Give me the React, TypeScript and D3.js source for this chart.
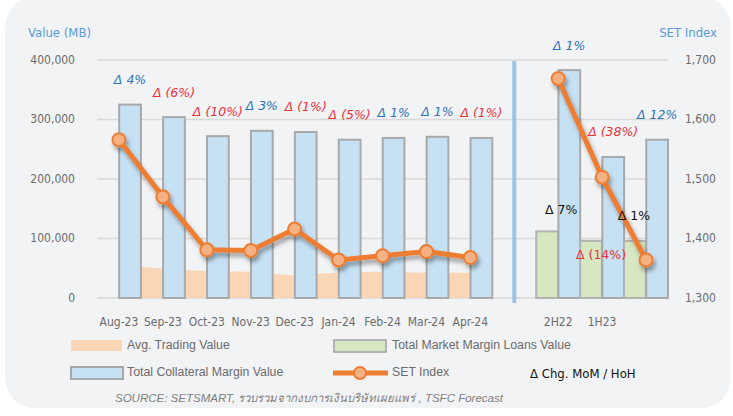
import React from 'react';
import * as d3 from 'd3';

// categories (the blank slot between the two groups holds the separator)
const categories = ['Aug-23', 'Sep-23', 'Oct-23', 'Nov-23', 'Dec-23', 'Jan-24', 'Feb-24', 'Mar-24', 'Apr-24', 'gap', '2H22', '1H23', '2H23'];
const xLabels = ['Aug-23', 'Sep-23', 'Oct-23', 'Nov-23', 'Dec-23', 'Jan-24', 'Feb-24', 'Mar-24', 'Apr-24', '', '2H22', '1H23', ''];

// values in MB
const collateralValue = [325000, 304000, 272000, 281000, 279000, 266000, 269000, 271000, 269000, null, 383000, 237000, 266000];
const marginLoansValue = [null, null, null, null, null, null, null, null, null, null, 112000, 96000, 96000];
const avgTradingValue = [56000, 49000, 45000, 44000, 38000, 43000, 44000, 42500, 42500, null, null, null, null];
const setIndex = [1566, 1470, 1381, 1380, 1416, 1364, 1371, 1378, 1368, null, 1669, 1503, 1364];

// % changes shown as annotations
const collateralChg = [4, -6, -10, 3, -1, -5, 1, 1, -1, null, 1, -38, 12];
const loansChg = [null, null, null, null, null, null, null, null, null, null, 7, -14, 1];

const leftTicks = [0, 100000, 200000, 300000, 400000];
const rightTicks = [1300, 1400, 1500, 1600, 1700];

const W = 733;
const H = 416;
const margin = { left: 97, right: 65, top: 60, bottom: 118 };

const BLUE_TXT = '#2E75B6';
const RED_TXT = '#F0303A';
const ORANGE = '#ED7D31';
const ORANGE_LT = '#F4B183';
const AXIS_FONT = '"DejaVu Sans Condensed", "DejaVu Sans", sans-serif';
const LEGEND_FONT = '"Liberation Sans", Arial, sans-serif';

// hand nudges for the margin-loan change labels (relative to the bar top)
const loanLabelNudge: Record<number, [number, number]> = { 10: [14, -21], 11: [10, 15], 12: [-1, -24] };

const fmtChg = (v: number) => (v < 0 ? `Δ (${Math.abs(v)}%)` : `Δ ${v}%`);

export default function App() {
  const x = d3.scaleBand().domain(categories).range([margin.left, W - margin.right]).padding(0);
  const sub = d3.scaleBand().domain(['loans', 'collateral']).range([0, x.bandwidth()]).paddingInner(0.02);
  const y = d3.scaleLinear().domain([0, 400000]).range([H - margin.bottom, margin.top]);
  const yR = d3.scaleLinear().domain([1300, 1700]).range([H - margin.bottom, margin.top]);

  const cx = (i: number) => (x(categories[i]) as number) + x.bandwidth() / 2;
  const fmt = d3.format(',');

  const line = d3.line<number | null>()
    .defined(d => d != null)
    .x((_, i) => cx(i))
    .y(d => yR(d as number));

  const area = d3.area<number | null>()
    .defined(d => d != null)
    .x((_, i) => cx(i))
    .y0(y(0))
    .y1(d => y(d as number));

  const base = y(0);

  return (
    <svg width={W} height={H} style={{ position: 'absolute', left: 0, top: 0, display: 'block' }}>
      <defs>
        <filter id="shadow" x="-10%" y="-10%" width="130%" height="140%">
          <feDropShadow dx="2" dy="4" stdDeviation="2.2" floodColor="#000" floodOpacity="0.35" />
        </filter>
      </defs>
      <rect x={0} y={0} width={W} height={H} fill="#fff" />
      <rect x={5} y={-3} width={726} height={411} rx={30} fill="#F2F3F5" />

      {/* gridlines */}
      {leftTicks.map(t => (
        <line key={t} x1={margin.left} x2={W - margin.right} y1={y(t)} y2={y(t)} stroke="#D9D9D9" strokeWidth={1.5} />
      ))}

      {/* area: avg trading value */}
      <path d={area(avgTradingValue) || ''} fill="#FBD6B6" />

      {/* bars */}
      {categories.map((c, i) => {
        const bx = x(c) as number;
        const els = [] as React.ReactNode[];
        const ml = marginLoansValue[i];
        if (ml != null) {
          els.push(
            <rect key={c + 'l'} x={bx + (sub('loans') as number)} y={y(ml)} width={sub.bandwidth()} height={base - y(ml)}
              fill="#D6E7C1" stroke="#B3B3B3" strokeWidth={2} />
          );
        }
        const cv = collateralValue[i];
        if (cv != null) {
          els.push(
            <rect key={c + 'c'} x={bx + (sub('collateral') as number)} y={y(cv)} width={sub.bandwidth()} height={base - y(cv)}
              fill="#C6E1F4" stroke="#A9A9A9" strokeWidth={2} />
          );
        }
        return <g key={c}>{els}</g>;
      })}

      {/* separator */}
      <line x1={cx(9)} x2={cx(9)} y1={61} y2={303} stroke="#9DC3E6" strokeWidth={4} />

      {/* SET index line */}
      <g filter="url(#shadow)">
        <path d={line(setIndex) || ''} fill="none" stroke={ORANGE} strokeWidth={5} strokeLinejoin="round" />
        {setIndex.map((v, i) => v == null ? null : (
          <circle key={i} cx={cx(i)} cy={yR(v)} r={6.5} fill={ORANGE_LT} stroke={ORANGE} strokeWidth={2} />
        ))}
      </g>

      {/* collateral change labels */}
      {collateralChg.map((v, i) => {
        if (v == null) return null;
        const cv = collateralValue[i] as number;
        const lx = (x(categories[i]) as number) + (sub('collateral') as number) + sub.bandwidth() / 2;
        return (
          <text key={'cc' + i} x={lx} y={y(cv) - 24} textAnchor="middle" dominantBaseline="middle"
            fontFamily='"DejaVu Sans", sans-serif' fontStyle="italic" fontSize={12.5}
            fill={v < 0 ? RED_TXT : BLUE_TXT}>{fmtChg(v)}</text>
        );
      })}

      {/* margin loans change labels */}
      {loansChg.map((v, i) => {
        if (v == null) return null;
        const mv = marginLoansValue[i] as number;
        const [dx, dy] = loanLabelNudge[i] || [0, -20];
        const lx = (x(categories[i]) as number) + (sub('loans') as number) + sub.bandwidth() / 2 + dx;
        return (
          <text key={'lc' + i} x={lx} y={y(mv) + dy} textAnchor="middle" dominantBaseline="middle"
            fontFamily='"DejaVu Sans", sans-serif' fontSize={12.5}
            fill={v < 0 ? RED_TXT : '#111'}>{fmtChg(v)}</text>
        );
      })}

      {/* axes labels */}
      {leftTicks.map(t => (
        <text key={'l' + t} x={75} y={y(t)} textAnchor="end" dominantBaseline="middle"
          fontFamily={AXIS_FONT} fontSize={12} fill="#6B6B6B">{fmt(t)}</text>
      ))}
      {rightTicks.map(t => (
        <text key={'r' + t} x={685} y={yR(t)} textAnchor="start" dominantBaseline="middle"
          fontFamily={AXIS_FONT} fontSize={12} fill="#6B6B6B">{fmt(t)}</text>
      ))}
      {xLabels.map((l, i) => l ? (
        <text key={'x' + i} x={cx(i)} y={322} textAnchor="middle" dominantBaseline="middle"
          fontFamily={AXIS_FONT} fontSize={12} fill="#6B6B6B">{l}</text>
      ) : null)}
      <text x={28} y={33} dominantBaseline="middle" fontFamily={AXIS_FONT} fontSize={13} fill="#5B9BD5">Value (MB)</text>
      <text x={717} y={33} textAnchor="end" dominantBaseline="middle" fontFamily={AXIS_FONT} fontSize={13} fill="#5B9BD5">SET Index</text>

      {/* legend */}
      <g fontFamily={LEGEND_FONT} fontSize={12.3} fill="#6B6B6B">
        <rect x={71} y={340} width={51} height={11} fill="#FBD6B6" />
        <text x={127} y={345.5} dominantBaseline="middle">Avg. Trading Value</text>
        <rect x={334} y={340} width={52} height={12} fill="#D6E7C1" stroke="#B3B3B3" strokeWidth={2} />
        <text x={392} y={345.5} dominantBaseline="middle">Total Market Margin Loans Value</text>
        <rect x={71} y={367} width={52} height={12} fill="#C6E1F4" stroke="#A9A9A9" strokeWidth={2} />
        <text x={127} y={372.5} dominantBaseline="middle">Total Collateral Margin Value</text>
        <line x1={333} x2={388} y1={373} y2={373} stroke={ORANGE} strokeWidth={5} />
        <circle cx={360} cy={373} r={6} fill={ORANGE_LT} stroke={ORANGE} strokeWidth={2} />
        <text x={392} y={372.5} dominantBaseline="middle">SET Index</text>
        <text x={530} y={374} dominantBaseline="middle" fontFamily={AXIS_FONT} fontSize={13} fill="#111">Δ Chg. MoM / HoH</text>
        <text x={115} y={399} dominantBaseline="middle" fontStyle="italic" fontSize={11.5} fill="#7F7F7F">
          SOURCE: SETSMART, รวบรวมจากงบการเงินบริษัทเผยแพร่ , TSFC Forecast
        </text>
      </g>
    </svg>
  );
}
